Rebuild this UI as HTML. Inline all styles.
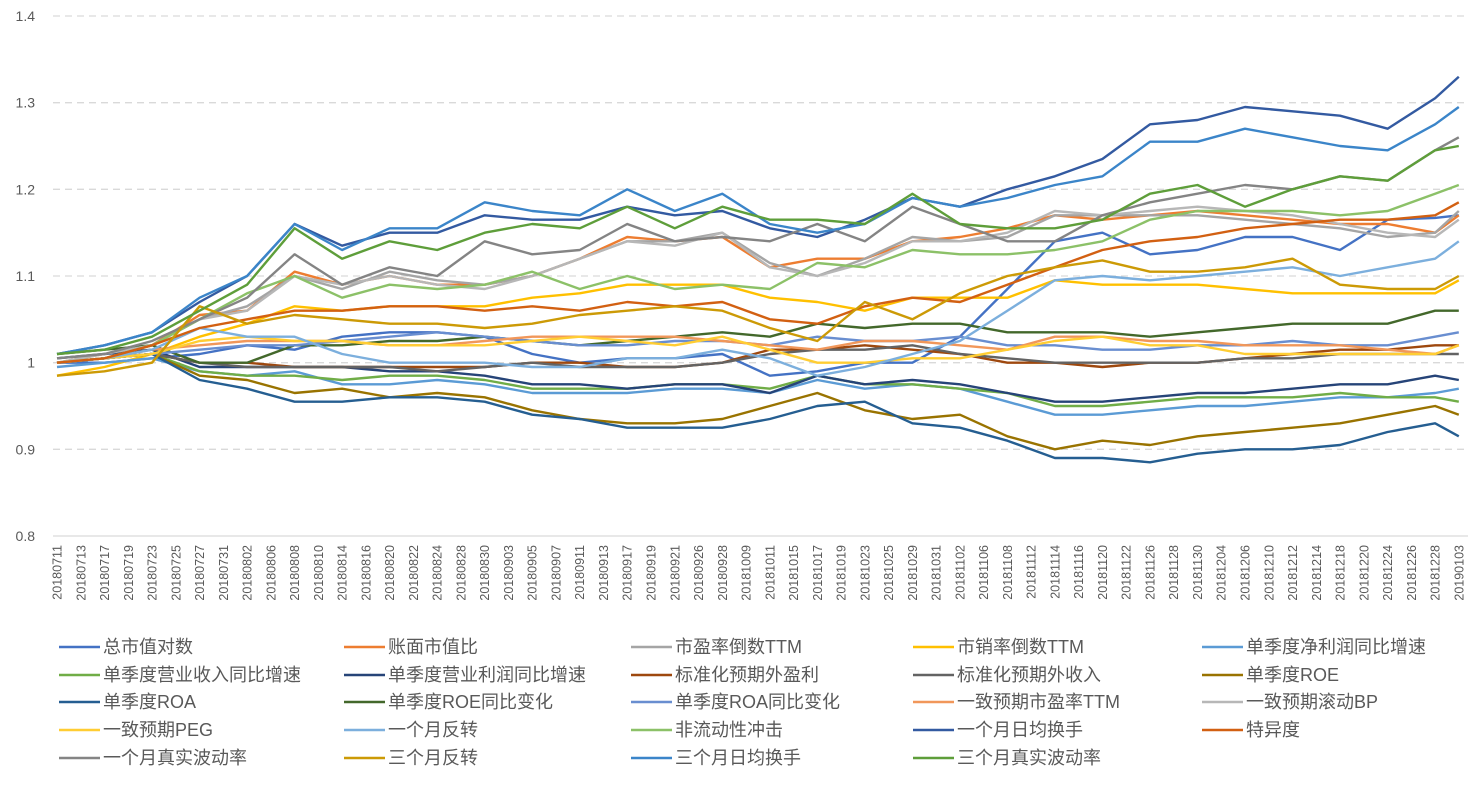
<!DOCTYPE html>
<html><head><meta charset="utf-8">
<style>
html,body{margin:0;padding:0;background:#fff;}
body{width:1482px;height:783px;overflow:hidden;font-family:"Liberation Sans","Noto Sans CJK SC",sans-serif;}
svg text{font-family:"Liberation Sans","Noto Sans CJK SC",sans-serif;fill:#595959;}
</style></head>
<body>
<svg id="chart" width="1482" height="783" xmlns="http://www.w3.org/2000/svg"></svg>
<script>
const categories=["20180711","20180713","20180717","20180719","20180723","20180725","20180727","20180731","20180802","20180806","20180808","20180810","20180814","20180816","20180820","20180822","20180824","20180828","20180830","20180903","20180905","20180907","20180911","20180913","20180917","20180919","20180921","20180926","20180928","20181009","20181011","20181015","20181017","20181019","20181023","20181025","20181029","20181031","20181102","20181106","20181108","20181112","20181114","20181116","20181120","20181122","20181126","20181128","20181130","20181204","20181206","20181210","20181212","20181214","20181218","20181220","20181224","20181226","20181228","20190103"];
const sampleDates=["20180711","20180717","20180723","20180727","20180802","20180808","20180814","20180820","20180824","20180830","20180905","20180911","20180917","20180921","20180928","20181011","20181017","20181023","20181029","20181102","20181108","20181114","20181120","20181126","20181130","20181206","20181212","20181218","20181224","20181228","20190103"];
const yTicks=[0.8,0.9,1.0,1.1,1.2,1.3,1.4];
const yTickLabels=["0.8","0.9","1","1.1","1.2","1.3","1.4"];
const seriesNames=["总市值对数","账面市值比","市盈率倒数TTM","市销率倒数TTM","单季度净利润同比增速","单季度营业收入同比增速","单季度营业利润同比增速","标准化预期外盈利","标准化预期外收入","单季度ROE","单季度ROA","单季度ROE同比变化","单季度ROA同比变化","一致预期市盈率TTM","一致预期滚动BP","一致预期PEG","一个月反转","非流动性冲击","一个月日均换手","特异度","一个月真实波动率","三个月反转","三个月日均换手","三个月真实波动率"];
const s0=[1.0,1.0,1.005,1.01,1.02,1.015,1.03,1.035,1.035,1.03,1.01,1.0,1.005,1.005,1.01,0.985,0.99,1.0,1.0,1.03,1.085,1.14,1.15,1.125,1.13,1.145,1.145,1.13,1.165,1.167,1.17];
const s1=[1.0,1.01,1.02,1.055,1.06,1.105,1.09,1.10,1.09,1.09,1.10,1.12,1.145,1.14,1.145,1.11,1.12,1.12,1.14,1.145,1.155,1.17,1.165,1.17,1.175,1.17,1.165,1.16,1.16,1.15,1.17];
const s2=[1.0,1.005,1.02,1.05,1.065,1.10,1.085,1.105,1.095,1.09,1.10,1.12,1.14,1.14,1.15,1.115,1.10,1.12,1.145,1.14,1.145,1.17,1.17,1.17,1.17,1.165,1.16,1.155,1.145,1.15,1.175];
const s3=[0.985,0.995,1.01,1.03,1.045,1.065,1.06,1.065,1.065,1.065,1.075,1.08,1.09,1.09,1.09,1.075,1.07,1.06,1.075,1.075,1.075,1.095,1.09,1.09,1.09,1.085,1.08,1.08,1.08,1.08,1.095];
const s4=[0.995,1.0,1.005,0.99,0.985,0.99,0.975,0.975,0.98,0.975,0.965,0.965,0.965,0.97,0.97,0.965,0.98,0.97,0.975,0.97,0.955,0.94,0.94,0.945,0.95,0.95,0.955,0.96,0.96,0.965,0.97];
const s5=[1.0,1.005,1.01,0.99,0.985,0.985,0.98,0.985,0.985,0.98,0.97,0.97,0.97,0.975,0.975,0.97,0.985,0.975,0.975,0.97,0.965,0.95,0.95,0.955,0.96,0.96,0.96,0.965,0.96,0.96,0.955];
const s6=[1.005,1.01,1.015,0.995,0.995,0.995,0.995,0.99,0.99,0.985,0.975,0.975,0.97,0.975,0.975,0.965,0.985,0.975,0.98,0.975,0.965,0.955,0.955,0.96,0.965,0.965,0.97,0.975,0.975,0.985,0.98];
const s7=[1.0,1.005,1.01,1.0,1.0,0.995,0.995,0.995,0.995,0.995,1.0,1.0,0.995,0.995,1.0,1.015,1.015,1.02,1.015,1.01,1.0,1.0,0.995,1.0,1.0,1.005,1.01,1.015,1.015,1.02,1.02];
const s8=[1.0,1.005,1.01,1.0,0.995,0.995,0.995,0.995,0.99,0.995,1.0,0.995,0.995,0.995,1.0,1.01,1.015,1.015,1.02,1.01,1.005,1.0,1.0,1.0,1.0,1.005,1.005,1.01,1.01,1.01,1.01];
const s9=[1.0,1.005,1.01,0.985,0.98,0.965,0.97,0.96,0.965,0.96,0.945,0.935,0.93,0.93,0.935,0.95,0.965,0.945,0.935,0.94,0.915,0.90,0.91,0.905,0.915,0.92,0.925,0.93,0.94,0.95,0.94];
const s10=[1.0,1.005,1.01,0.98,0.97,0.955,0.955,0.96,0.96,0.955,0.94,0.935,0.925,0.925,0.925,0.935,0.95,0.955,0.93,0.925,0.91,0.89,0.89,0.885,0.895,0.90,0.90,0.905,0.92,0.93,0.915];
const s11=[1.01,1.015,1.02,1.0,1.0,1.02,1.02,1.025,1.025,1.03,1.025,1.02,1.025,1.03,1.035,1.03,1.045,1.04,1.045,1.045,1.035,1.035,1.035,1.03,1.035,1.04,1.045,1.045,1.045,1.06,1.06];
const s12=[1.0,1.005,1.01,1.015,1.02,1.02,1.025,1.03,1.035,1.03,1.025,1.02,1.02,1.025,1.025,1.02,1.03,1.025,1.025,1.03,1.02,1.02,1.015,1.015,1.02,1.02,1.025,1.02,1.02,1.03,1.035];
const s13=[1.0,1.005,1.015,1.02,1.025,1.025,1.025,1.02,1.02,1.025,1.03,1.03,1.03,1.03,1.025,1.02,1.015,1.025,1.025,1.02,1.015,1.03,1.03,1.025,1.025,1.02,1.02,1.02,1.015,1.01,1.02];
const s14=[1.0,1.01,1.02,1.05,1.06,1.10,1.09,1.10,1.09,1.085,1.10,1.12,1.14,1.135,1.15,1.11,1.10,1.115,1.14,1.14,1.15,1.175,1.17,1.175,1.18,1.175,1.17,1.16,1.15,1.145,1.165];
const s15=[1.0,1.005,1.01,1.025,1.03,1.025,1.025,1.02,1.02,1.02,1.025,1.03,1.025,1.02,1.03,1.015,1.0,1.0,1.005,1.005,1.015,1.025,1.03,1.02,1.02,1.01,1.01,1.01,1.01,1.01,1.02];
const s16=[1.0,1.005,1.015,1.04,1.03,1.03,1.01,1.0,1.0,1.0,0.995,0.995,1.005,1.005,1.015,1.005,0.985,0.995,1.01,1.025,1.06,1.095,1.10,1.095,1.10,1.105,1.11,1.10,1.11,1.12,1.14];
const s17=[1.0,1.005,1.02,1.05,1.08,1.10,1.075,1.09,1.085,1.09,1.105,1.085,1.10,1.085,1.09,1.085,1.115,1.11,1.13,1.125,1.125,1.13,1.14,1.165,1.175,1.175,1.175,1.17,1.175,1.195,1.205];
const s18=[1.01,1.02,1.035,1.07,1.10,1.16,1.135,1.15,1.15,1.17,1.165,1.165,1.18,1.17,1.175,1.155,1.145,1.165,1.19,1.18,1.20,1.215,1.235,1.275,1.28,1.295,1.29,1.285,1.27,1.305,1.33];
const s19=[1.0,1.005,1.02,1.04,1.05,1.06,1.06,1.065,1.065,1.06,1.065,1.06,1.07,1.065,1.07,1.05,1.045,1.065,1.075,1.07,1.09,1.11,1.13,1.14,1.145,1.155,1.16,1.165,1.165,1.17,1.185];
const s20=[1.005,1.01,1.025,1.05,1.075,1.125,1.09,1.11,1.10,1.14,1.125,1.13,1.16,1.14,1.145,1.14,1.16,1.14,1.18,1.16,1.14,1.14,1.17,1.185,1.195,1.205,1.20,1.215,1.21,1.245,1.26];
const s21=[0.985,0.99,1.0,1.065,1.045,1.055,1.05,1.045,1.045,1.04,1.045,1.055,1.06,1.065,1.06,1.04,1.025,1.07,1.05,1.08,1.10,1.11,1.118,1.105,1.105,1.11,1.12,1.09,1.085,1.085,1.10];
const s22=[1.01,1.02,1.035,1.075,1.10,1.16,1.13,1.155,1.155,1.185,1.175,1.17,1.20,1.175,1.195,1.16,1.15,1.16,1.19,1.18,1.19,1.205,1.215,1.255,1.255,1.27,1.26,1.25,1.245,1.275,1.295];
const s23=[1.01,1.015,1.03,1.06,1.09,1.155,1.12,1.14,1.13,1.15,1.16,1.155,1.18,1.155,1.18,1.165,1.165,1.16,1.195,1.16,1.155,1.155,1.165,1.195,1.205,1.18,1.20,1.215,1.21,1.245,1.25];
const seriesValues=[s0,s1,s2,s3,s4,s5,s6,s7,s8,s9,s10,s11,s12,s13,s14,s15,s16,s17,s18,s19,s20,s21,s22,s23];
const colors=["#4472C4","#ED7D31","#A5A5A5","#FFC000","#5B9BD5","#70AD47","#264478","#9E480E","#636363","#997300","#255E91","#43682B","#698ED0","#F1975A","#B7B7B7","#FFCD33","#7CAFDD","#8CC168","#335AA1","#D26012","#848484","#CC9A06","#3B85C9","#5E9E3A"];

const NS="http://www.w3.org/2000/svg";
const svg=document.getElementById('chart');
function mk(tag,attrs,parent){const e=document.createElementNS(NS,tag);for(const k in attrs)e.setAttribute(k,attrs[k]);(parent||svg).appendChild(e);return e;}
const yMin=0.8,yMax=1.4,yTop=16,yBot=536;
function yScale(v){return yBot-(v-yMin)/(yMax-yMin)*(yBot-yTop);}
const x0=57,dx=23.76;
function xScale(d){return x0+categories.indexOf(d)*dx;}

yTicks.forEach((t,i)=>{
  const y=yScale(t);
  const g=mk('line',{x1:53,x2:1468,y1:y,y2:y,stroke:'#d9d9d9','stroke-width':1.3,'stroke-dasharray':i===0?'none':'7,5'});
  
  
  const tx=mk('text',{x:35,y:y+5,'text-anchor':'end','font-size':'14'});
  tx.textContent=yTickLabels[i];
  
  
});
categories.forEach(c=>{
  const x=xScale(c);
  const tx=mk('text',{transform:`translate(${x+4.5},545) rotate(-90)`,'text-anchor':'end','font-size':'12.5'});
  tx.textContent=c;
  
  
});
seriesValues.forEach((vals,si)=>{
  const pts=vals.map((v,i)=>xScale(sampleDates[i]).toFixed(1)+','+yScale(v).toFixed(1)).join(' ');
  const pl=mk('polyline',{points:pts,fill:'none',stroke:colors[si],'stroke-width':2.4,'stroke-linejoin':'round'});
  
  
});
const colX=[59,344,631,913,1202];
const rowY=[647,675,702,730,758];
seriesNames.forEach((n,i)=>{
  const c=i%5,r=Math.floor(i/5);
  const g=mk('g',{});
  
  
  mk('line',{x1:colX[c],x2:colX[c]+41,y1:rowY[r],y2:rowY[r],stroke:colors[i],'stroke-width':2.6},g);
  const t=mk('text',{x:colX[c]+44,y:rowY[r]+6,'font-size':'18'},g);
  t.textContent=n;
});
</script>
</body></html>
